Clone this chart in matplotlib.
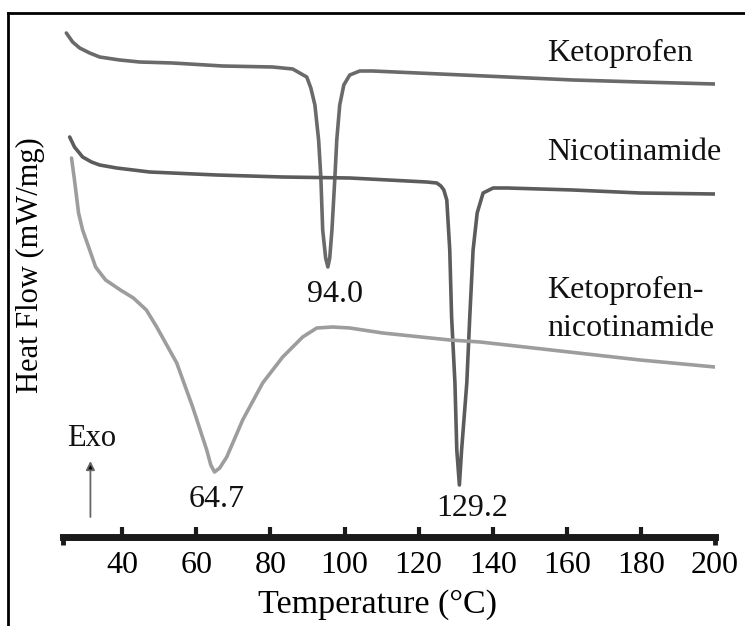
import matplotlib
matplotlib.use("Agg")
import matplotlib.pyplot as plt
import numpy as np
from matplotlib.lines import Line2D

plt.rcParams.update({
    "font.family": "Liberation Serif",
    "font.size": 23,
    "text.color": "#111111",
})

# ---- data (heat flow in arbitrary units) ----
keto_T = [24.9, 26.6, 28.5, 31.2, 33.9, 39.3, 44.7, 53.6, 67.1, 80.6, 86.0, 89.8,
          90.9, 92.0, 93.0, 93.6, 94.1, 94.9, 95.5, 96.0, 96.6, 97.4, 97.9, 98.7,
          99.8, 101.4, 104.1, 107.6, 125.8, 143.9, 161.7, 179.8, 200.0]
keto_hf = [504, 495, 489, 484, 480, 477, 475, 474, 471, 470, 468, 460,
           449, 432, 397, 360, 307, 279, 270, 279, 307, 360, 397, 432,
           452, 462, 466, 466, 463, 460, 457, 455, 453]

nico_T = [25.8, 27.1, 29.3, 31.7, 33.9, 38.5, 47.4, 65.5, 83.3, 101.4, 122.2, 124.9,
          126.0, 126.8, 127.6, 128.4, 128.9, 129.8, 130.3, 131.0, 131.6, 133.0,
          133.8, 134.7, 135.8, 137.4, 140.1, 143.9, 161.7, 179.8, 200.0]
nico_hf = [400, 390, 380, 375, 372, 369, 365, 362, 360, 359, 355, 354,
           351, 347, 337, 287, 220, 154, 87, 52, 87, 154,
           220, 287, 324, 344, 349, 349, 347, 344, 343]

mix_T = [26.3, 27.1, 28.2, 29.3, 31.2, 32.8, 35.5, 39.5, 43.0, 46.5, 49.3, 54.7,
         59.0, 62.8, 63.9, 64.9, 66.3, 68.2, 72.5, 77.9, 83.3, 88.7, 92.5, 96.8,
         101.4, 110.3, 128.4, 136.6, 158.2, 179.8, 200.0]
mix_hf = [379, 357, 324, 307, 287, 270, 257, 247, 239, 227, 210, 174,
          130, 87, 72, 65, 69, 80, 117, 154, 180, 200, 209, 210,
          209, 204, 197, 195, 186, 177, 170]

peak_labels = ["94.0", "129.2", "64.7"]
tick_vals = [40, 60, 80, 100, 120, 140, 160, 180]
T_MIN, T_MAX = 24, 200

series = [
    (keto_T, keto_hf, "#6a6a6a"),
    (nico_T, nico_hf, "#5c5c5c"),
    (mix_T, mix_hf, "#9d9d9d"),
]
names = [("Ketoprofen", 484), ("Nicotinamide", 384),
         ("Ketoprofen-", 247), ("nicotinamide", 209)]

fig = plt.figure(figsize=(7.45, 6.26), dpi=100)
ax = fig.add_axes([63 / 745, (626 - 537) / 626, 652 / 745, 537 / 626])
ax.set_xlim(T_MIN, T_MAX)
ax.set_ylim(0, 537)

for t, hf, col in series:
    ax.plot(t, hf, color=col, lw=2.6, solid_joinstyle="round", solid_capstyle="round")

# series names, left aligned at the right of the plot
for name, y in names:
    ax.text(154.8, y, name, ha="left", va="center", fontsize=23)

# peak temperatures under each minimum
offsets = [(5, -20), (9, -17), (1.5, -20)]
for (t, hf, col), lab, off in zip(series, peak_labels, offsets):
    i = int(np.argmin(hf))
    ax.annotate(lab, xy=(t[i], hf[i]), xytext=off, textcoords="offset points",
                ha="center", va="center", fontsize=23)

# Exo arrow
ax.text(31.7, 99, "Exo", ha="center", va="center", fontsize=22)
ax.annotate("", xy=(31.4, 76), xytext=(31.4, 20),
            arrowprops=dict(arrowstyle="-|>", color="#666666", lw=1.3,
                            mutation_scale=13, shrinkA=0, shrinkB=0,
                            ec="#666666", fc="black"))

# axis styling
for s in ["left", "right", "top"]:
    ax.spines[s].set_visible(False)
ax.spines["bottom"].set_linewidth(5)
ax.spines["bottom"].set_color("#1a1a1a")
ax.set_yticks([])
ax.set_xticks(tick_vals)
ax.set_xticks([T_MIN, T_MAX], minor=True)
ax.set_xticklabels(["", str(T_MAX)], minor=True)
ax.tick_params(axis="x", which="major", direction="in", length=7, width=3,
               color="#1a1a1a", pad=10, labelsize=23)
ax.tick_params(axis="x", which="minor", direction="out", length=6, width=3.5,
               color="#1a1a1a", pad=4, labelsize=23)

ax.set_xlabel("Temperature (°C)", fontsize=24.5)
ax.xaxis.set_label_coords(0.483, -0.1266)
ax.xaxis.label.set_va("center")
ax.set_ylabel("Heat Flow (mW/mg)", fontsize=22)
ax.yaxis.set_label_coords(-0.0506, 0.5065)
ax.yaxis.label.set_va("center")

# frame left/top of the original figure
fig.add_artist(Line2D([8 / 745, 8 / 745], [0, 1 - 13 / 626], color="black", lw=2,
                      transform=fig.transFigure))
fig.add_artist(Line2D([8 / 745, 1], [1 - 13 / 626, 1 - 13 / 626], color="black", lw=2,
                      transform=fig.transFigure))

fig.savefig("out.png", dpi=100)
